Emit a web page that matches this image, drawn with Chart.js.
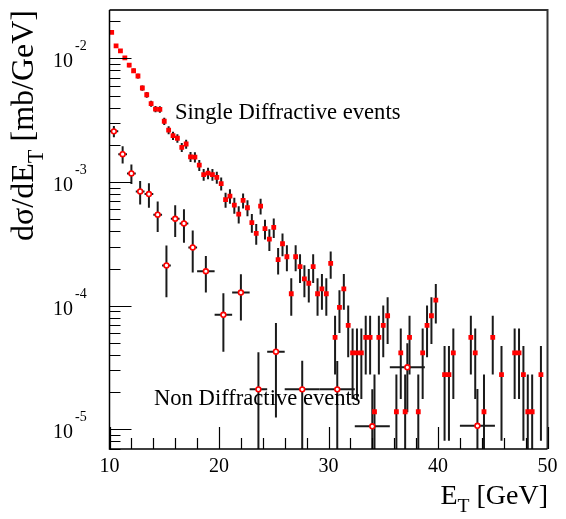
<!DOCTYPE html>
<html>
<head>
<meta charset="utf-8">
<script src="https://cdn.jsdelivr.net/npm/chart.js@4"></script>
<style>
  html, body { margin: 0; padding: 0; background: #fff; }
  #wrap { width: 566px; height: 519px; }
</style>
</head>
<body>
<div id="wrap"><canvas id="et-chart" width="566" height="519"></canvas></div>
<script>
// Single diffractive events, 0.4 GeV bins (empty bins left out)
const sdX = [10.2, 10.6, 11.0, 11.4, 11.8, 12.2, 12.6, 13.0, 13.4, 13.8,
  14.2, 14.6, 15.0, 15.4, 15.8, 16.2, 16.6, 17.0, 17.4, 17.8,
  18.2, 18.6, 19.0, 19.4, 19.8, 20.2, 20.6, 21.0, 21.4, 21.8,
  22.2, 22.6, 23.0, 23.4, 23.8, 24.2, 24.6, 25.0, 25.4, 25.8,
  26.2, 26.6, 27.0, 27.4, 27.8, 28.2, 28.6, 29.0, 29.4, 29.8,
  30.2, 30.6, 31.0, 31.4, 31.8, 32.2, 32.6, 33.0, 33.4, 33.8,
  34.2, 34.6, 35.0, 35.4, 36.2, 36.6, 37.0, 37.4, 38.2, 38.6,
  39.0, 39.4, 39.8, 40.6, 41.0, 41.4, 43.0, 43.4, 44.2, 45.0,
  45.8, 47.0, 47.4, 47.8, 48.2, 48.6, 49.4];
const sdY = [0.0162, 0.0126, 0.0115, 0.0101, 0.00883, 0.00794, 0.0072, 0.00576, 0.00508, 0.0043,
  0.00389, 0.00387, 0.0031, 0.00263, 0.00237, 0.00226, 0.00191, 0.00203, 0.0016, 0.00159,
  0.00137, 0.00115, 0.00118, 0.00115, 0.00109, 0.00097, 0.00072, 0.00077, 0.00065, 0.00055,
  0.00071, 0.00062, 0.00047, 0.000385, 0.00064, 0.00042, 0.000346, 0.00043, 0.000236, 0.000317,
  0.000249, 0.000125, 0.000249, 0.000207, 0.000165, 0.000152, 0.000207, 0.000125, 0.000137, 0.000125,
  0.00022, 5.55e-5, 9.7e-5, 0.000137, 6.94e-5, 4.16e-5, 4.16e-5, 4.16e-5, 5.55e-5, 5.55e-5,
  1.39e-5, 5.55e-5, 6.94e-5, 8.3e-5, 1.39e-5, 4.16e-5, 1.39e-5, 5.55e-5, 1.39e-5, 4.16e-5,
  6.94e-5, 8.3e-5, 0.000111, 2.77e-5, 2.77e-5, 4.16e-5, 5.55e-5, 4.16e-5, 1.39e-5, 5.55e-5,
  2.77e-5, 4.16e-5, 4.16e-5, 2.77e-5, 1.39e-5, 1.39e-5, 2.77e-5];
const sdErr = [4.7e-4, 4.2e-4, 4.0e-4, 3.7e-4, 3.5e-4, 3.3e-4, 3.2e-4, 2.8e-4, 2.7e-4, 2.4e-4,
  2.3e-4, 2.3e-4, 2.1e-4, 1.9e-4, 1.8e-4, 1.8e-4, 1.6e-4, 1.7e-4, 1.5e-4, 1.5e-4,
  1.4e-4, 1.26e-4, 1.28e-4, 1.27e-4, 1.23e-4, 1.16e-4, 1.0e-4, 1.03e-4, 9.5e-5, 8.7e-5,
  9.9e-5, 9.2e-5, 8.1e-5, 7.3e-5, 9.4e-5, 7.6e-5, 6.9e-5, 7.7e-5, 5.7e-5, 6.6e-5,
  5.9e-5, 4.2e-5, 5.9e-5, 5.4e-5, 4.8e-5, 4.6e-5, 5.4e-5, 4.2e-5, 4.4e-5, 4.2e-5,
  5.5e-5, 2.77e-5, 3.67e-5, 4.4e-5, 3.1e-5, 2.4e-5, 2.4e-5, 2.4e-5, 2.77e-5, 2.77e-5,
  1.39e-5, 2.77e-5, 3.1e-5, 3.4e-5, 1.39e-5, 2.4e-5, 1.39e-5, 2.77e-5, 1.39e-5, 2.4e-5,
  3.1e-5, 3.4e-5, 3.92e-5, 1.96e-5, 1.96e-5, 2.4e-5, 2.77e-5, 2.4e-5, 1.39e-5, 2.77e-5,
  1.96e-5, 2.4e-5, 2.4e-5, 1.96e-5, 1.39e-5, 1.39e-5, 1.96e-5];

// Non diffractive events, variable bins
const ndX = [10.4, 11.2, 12.0, 12.8, 13.6, 14.4, 15.2, 16.0, 16.8, 17.6,
  18.8, 20.4, 22.0, 23.6, 25.2, 27.6, 30.8, 34.0, 37.2, 43.6];
const ndXErr = [0.4, 0.4, 0.4, 0.4, 0.4, 0.4, 0.4, 0.4, 0.4, 0.4,
  0.8, 0.8, 0.8, 0.8, 0.8, 1.6, 1.6, 1.6, 1.6, 1.6];
const ndY = [2.57e-3, 1.68e-3, 1.175e-3, 8.4e-4, 8.0e-4, 5.45e-4, 2.12e-4, 5.05e-4, 4.63e-4, 2.96e-4,
  1.9e-4, 8.45e-5, 1.28e-4, 2.11e-5, 4.25e-5, 2.11e-5, 2.11e-5, 1.06e-5, 3.18e-5, 1.07e-5];
const ndErr = [2.7e-4, 2.7e-4, 2.1e-4, 1.8e-4, 1.8e-4, 1.5e-4, 9.5e-5, 1.45e-4, 1.4e-4, 1.1e-4,
  6.2e-5, 4.2e-5, 5.2e-5, 2.1e-5, 3.0e-5, 1.48e-5, 1.46e-5, 1.05e-5, 1.8e-5, 1.05e-5];

const xTicks = [10, 20, 30, 40, 50];
const yDecades = [-5, -4, -3, -2];

const SERIF = '"Liberation Serif", "DejaVu Serif", serif';

// error bars go under the markers
const errorBars = {
  id: 'errorBars',
  beforeDatasetsDraw(chart) {
    const { ctx, chartArea: a, scales: { x, y } } = chart;
    ctx.save();
    ctx.beginPath();
    ctx.rect(a.left, a.top, a.right - a.left, a.bottom - a.top);
    ctx.clip();
    ctx.strokeStyle = '#1a1a1a';
    ctx.lineWidth = 2;
    chart.data.datasets.forEach(ds => {
      ds.data.forEach((p, i) => {
        const px = x.getPixelForValue(p.x);
        const py = y.getPixelForValue(p.y);
        const e = ds.errY[i];
        const lo = p.y - e > 0 ? y.getPixelForValue(p.y - e) : a.bottom;
        const hi = y.getPixelForValue(p.y + e);
        ctx.beginPath();
        ctx.moveTo(px, lo);
        ctx.lineTo(px, hi);
        if (ds.errX) {
          ctx.moveTo(x.getPixelForValue(p.x - ds.errX[i]), py);
          ctx.lineTo(x.getPixelForValue(p.x + ds.errX[i]), py);
        }
        ctx.stroke();
      });
    });
    ctx.restore();
  }
};

function drawSub(ctx, parts, size) {
  // parts: [text, isSub]; draws along current baseline from x=0
  let cx = 0;
  parts.forEach(([t, sub]) => {
    ctx.font = (sub ? size * 0.7 : size) + 'px ' + SERIF;
    ctx.fillText(t, cx, sub ? size * 0.3 : 0);
    cx += ctx.measureText(t).width;
  });
  return cx;
}
function measureSub(ctx, parts, size) {
  let w = 0;
  parts.forEach(([t, sub]) => {
    ctx.font = (sub ? size * 0.7 : size) + 'px ' + SERIF;
    w += ctx.measureText(t).width;
  });
  return w;
}

// ROOT-like frame, inward ticks, labels and titles
const rootFrame = {
  id: 'rootFrame',
  afterDraw(chart) {
    const { ctx, chartArea: a, scales: { x, y } } = chart;
    ctx.save();
    ctx.strokeStyle = '#333';
    ctx.lineWidth = 2;
    ctx.beginPath();
    ctx.moveTo(a.left, a.top); ctx.lineTo(a.right, a.top); ctx.lineTo(a.right, a.bottom);
    ctx.stroke();
    ctx.strokeStyle = '#000';
    ctx.lineWidth = 1.5;
    ctx.beginPath();
    ctx.moveTo(a.left, a.top); ctx.lineTo(a.left, a.bottom); ctx.lineTo(a.right, a.bottom);
    ctx.stroke();

    // x ticks every 2 GeV, long ones every 10
    ctx.lineWidth = 1.2;
    ctx.beginPath();
    for (let v = 10; v <= 50; v += 2) {
      const px = Math.round(x.getPixelForValue(v)) + 0.5;
      const len = v % 10 === 0 ? 22 : 11;
      ctx.moveTo(px, a.bottom);
      ctx.lineTo(px, a.bottom - len);
    }
    // y ticks, log decades with 2..9 subdivisions
    yDecades.concat([-6]).forEach(d => {
      for (let m = 1; m <= 9; m++) {
        const v = m * Math.pow(10, d);
        if (v < y.min || v > y.max) continue;
        const py = Math.round(y.getPixelForValue(v)) + 0.5;
        const len = m === 1 ? 22 : 11;
        ctx.moveTo(a.left, py);
        ctx.lineTo(a.left + len, py);
      }
    });
    ctx.stroke();

    ctx.fillStyle = '#000';
    ctx.textBaseline = 'alphabetic';
    // x tick labels
    ctx.font = '20px ' + SERIF;
    ctx.textAlign = 'center';
    xTicks.forEach(v => ctx.fillText(String(v), x.getPixelForValue(v), 472));
    // y tick labels 10^d
    yDecades.forEach(d => {
      const py = y.getPixelForValue(Math.pow(10, d));
      ctx.font = '20px ' + SERIF;
      ctx.textAlign = 'right';
      ctx.fillText('10', 73, py + 9);
      ctx.font = '14px ' + SERIF;
      ctx.textAlign = 'left';
      ctx.fillText(String(d), 75, py - 8);
    });

    // x title
    ctx.textAlign = 'left';
    const xt = [['E', false], ['T', true], [' [GeV]', false]];
    const xw = measureSub(ctx, xt, 28);
    ctx.save();
    ctx.translate(548 - xw, 504);
    drawSub(ctx, xt, 28);
    ctx.restore();

    // y title, rotated
    const yt = [['d\u03c3/dE', false], ['T', true], [' [mb/GeV]', false]];
    const yw = measureSub(ctx, yt, 32);
    ctx.save();
    ctx.translate(33, 10 + yw);
    ctx.rotate(-Math.PI / 2);
    drawSub(ctx, yt, 32);
    ctx.restore();

    // annotations
    ctx.font = '22.6px ' + SERIF;
    ctx.fillText('Single Diffractive events', 175, 119);
    ctx.fillText('Non Diffractive events', 154, 405);
    ctx.restore();
  }
};

const ctx = document.getElementById('et-chart').getContext('2d');
const chart = new Chart(ctx, {
  type: 'scatter',
  data: {
    datasets: [{
      label: 'Single Diffractive events',
      data: sdX.map((v, i) => ({ x: v, y: sdY[i] })),
      errY: sdErr,
      pointStyle: 'rect',
      pointRadius: 3.4,
      pointBorderWidth: 0,
      backgroundColor: '#ff0000',
      borderColor: '#ff0000'
    }, {
      label: 'Non Diffractive events',
      data: ndX.map((v, i) => ({ x: v, y: ndY[i] })),
      errY: ndErr,
      errX: ndXErr,
      pointStyle: 'circle',
      pointRadius: 2.4,
      pointBorderWidth: 1.6,
      backgroundColor: '#ffffff',
      borderColor: '#ff0000'
    }]
  },
  options: {
    responsive: false,
    animation: false,
    events: [],
    layout: { padding: { left: 109.5, right: 18.5, top: 10, bottom: 70 } },
    plugins: { legend: { display: false }, tooltip: { enabled: false } },
    scales: {
      x: { type: 'linear', min: 10, max: 50, display: false },
      y: { type: 'logarithmic', min: 6.95e-6, max: 0.0246, display: false }
    }
  },
  plugins: [errorBars, rootFrame]
});
</script>
</body>
</html>
